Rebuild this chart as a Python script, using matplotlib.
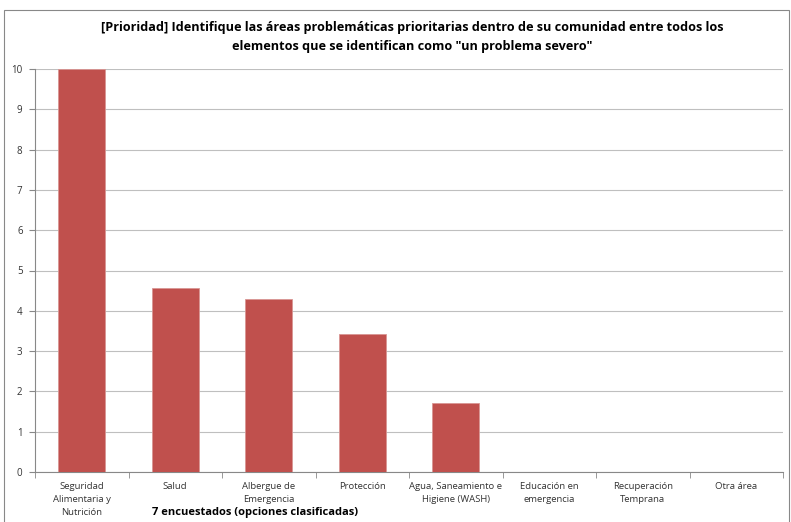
import matplotlib
matplotlib.use("Agg")
import matplotlib.pyplot as plt
from matplotlib.patches import Rectangle
import numpy as np

categories = ["Seguridad\nAlimentaria y\nNutrición", "Salud", "Albergue de\nEmergencia",
              "Protección", "Agua, Saneamiento e\nHigiene (WASH)", "Educación en\nemergencia",
              "Recuperación\nTemprana", "Otra área"]
values = [10, 4.57, 4.29, 3.43, 1.71, 0, 0, 0]
yticks = list(range(0, 11))
title = '[Prioridad] Identifique las áreas problemáticas prioritarias dentro de su comunidad entre todos los\nelementos que se identifican como "un problema severo"'
xlabel = "7 encuestados (opciones clasificadas)"

plt.rcParams['font.family'] = ['Open Sans', 'DejaVu Sans']

W, H = 791, 522
fig = plt.figure(figsize=(W/100, H/100), dpi=100)
fig.patches.append(Rectangle((4/W, -0.05), (789-4)/W, 1.05 - 10/H, transform=fig.transFigure,
                             fill=False, edgecolor='#888888', linewidth=0.8))
ax = fig.add_axes([35/W, 1-472/H, (783-35)/W, (472-69)/H])

x = np.arange(len(categories))
ax.bar(x, values, width=0.5, color='#C0504D', edgecolor='#D99694', linewidth=0.6, zorder=3)
ax.set_xlim(-0.5, len(categories)-0.5)
ax.set_ylim(0, 10)
ax.set_yticks(yticks)
ax.set_yticklabels([str(t) for t in yticks], fontsize=7)
ax.grid(axis='y', color='#BFBFBF', linewidth=0.8, zorder=0)
ax.set_xticks(x)
ax.set_xticklabels(categories, fontsize=6.8, color='#333333', linespacing=1.6)
ax.set_xticks(np.arange(-0.5, len(categories)), minor=True)
ax.tick_params(axis='x', which='major', length=0, pad=7)
ax.tick_params(axis='x', which='minor', length=4, color='#888888')
ax.tick_params(axis='y', length=4, color='#888888', pad=5, labelcolor='#333333')
for s in ['top', 'right']:
    ax.spines[s].set_visible(False)
for s in ['left', 'bottom']:
    ax.spines[s].set_color('#888888')

fig.text(412/W, 1-37/H, title, ha='center', va='center', fontsize=9.1, fontweight='bold', linespacing=1.6)
fig.text(152/W, 1-512/H, xlabel, ha='left', va='center', fontsize=8, fontweight='bold')

fig.savefig("out.png", dpi=100)
